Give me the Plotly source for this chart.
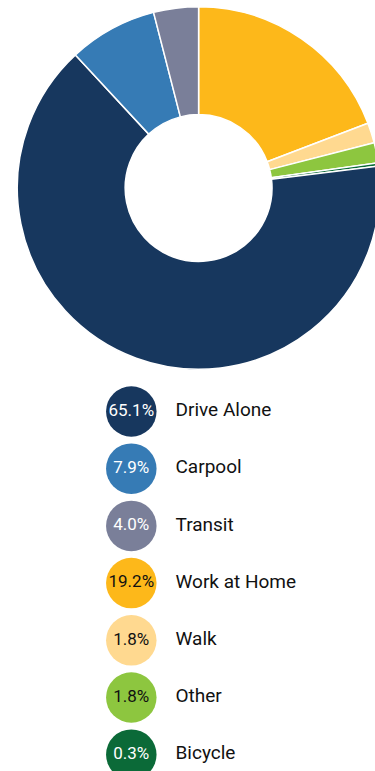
import plotly.graph_objects as go

# Commute mode share (percent of workers)
modes = ["Drive Alone", "Carpool", "Transit", "Work at Home", "Walk", "Other", "Bicycle"]
shares = [65.1, 7.9, 4.0, 19.2, 1.8, 1.8, 0.3]
colors = ["#17375E", "#367BB5", "#7A7F99", "#FDB81A", "#FFD990", "#8DC63F", "#0B6A38"]
badge_text_colors = ["#FFFFFF", "#FFFFFF", "#FFFFFF", "#111111", "#111111", "#111111", "#FFFFFF"]

# Ring order, clockwise from 12 o'clock
ring_order = ["Work at Home", "Walk", "Other", "Bicycle", "Drive Alone", "Carpool", "Transit"]

W, H = 380, 771
LABEL_FONT = "Roboto, Liberation Sans, sans-serif"

idx = [modes.index(m) for m in ring_order]
pie = go.Pie(
    labels=[modes[i] for i in idx],
    values=[shares[i] for i in idx],
    marker=dict(colors=[colors[i] for i in idx], line=dict(color="#FFFFFF", width=1.5)),
    sort=False,
    direction="clockwise",
    rotation=0,
    hole=0.405,
    textinfo="none",
    showlegend=False,
    domain=dict(x=[17.3 / W, 379.9 / W], y=[1 - 369.3 / H, 1 - 6.7 / H]),
)

# Legend rows: colored badge with the share, then the mode name
rows = list(range(len(modes)))
row_top, row_step = 411.5, 57.2
y_range = [(H - row_top) / row_step, -row_top / row_step]

badges = go.Scatter(
    x=[131.3] * len(modes),
    y=rows,
    mode="markers+text",
    marker=dict(size=50.5, color=colors, line=dict(width=0)),
    text=[f"{v:.1f}%" for v in shares],
    textposition="middle center",
    textfont=dict(family=LABEL_FONT, size=17, color=badge_text_colors),
    hoverinfo="skip",
    showlegend=False,
)

names = go.Scatter(
    x=[175.5] * len(modes),
    y=rows,
    mode="text",
    text=modes,
    textposition="middle right",
    textfont=dict(family=LABEL_FONT, size=19, color="#111111"),
    hoverinfo="skip",
    showlegend=False,
)

fig = go.Figure([pie, badges, names])
fig.update_layout(
    width=W,
    height=H,
    autosize=False,
    margin=dict(l=0, r=0, t=0, b=0),
    paper_bgcolor="#FFFFFF",
    plot_bgcolor="rgba(0,0,0,0)",
    xaxis=dict(range=[0, W], visible=False, fixedrange=True, domain=[0, 1]),
    yaxis=dict(range=y_range, visible=False, fixedrange=True, domain=[0, 1]),
)

fig.write_html(
    "out.html",
    config={"displayModeBar": False},
    post_script="document.body.style.margin='0';document.body.style.overflow='hidden';",
)
